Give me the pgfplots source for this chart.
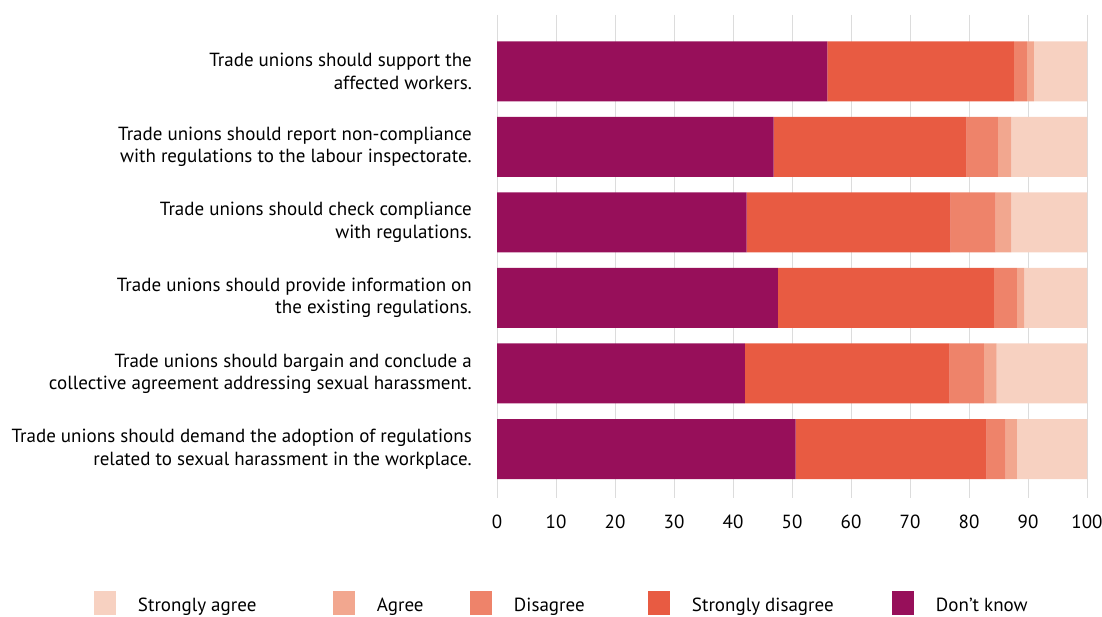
\documentclass[border=0pt]{standalone}
\usepackage{fontspec}
\setmainfont{PT Sans}
\usepackage{pgfplots}
\pgfplotsset{compat=1.18}
\definecolor{cDK}{RGB}{151,15,90}
\definecolor{cSD}{RGB}{232,91,66}
\definecolor{cD}{RGB}{238,131,106}
\definecolor{cA}{RGB}{242,167,143}
\definecolor{cSA}{RGB}{247,209,193}
\definecolor{gridc}{RGB}{220,220,220}
\newcommand{\lfont}{\fontsize{19bp}{22.4bp}\selectfont}
\begin{document}
\begin{tikzpicture}
\useasboundingbox (0,0) rectangle (1102bp,617bp);
\begin{axis}[
  at={(497bp,119bp)}, anchor=south west,
  scale only axis, width=590bp, height=483bp,
  xbar stacked, bar width=60bp, bar shift=0pt,
  xmin=0, xmax=100, ymin=-0.748, ymax=5.649, y dir=reverse,
  xtick={0,10,...,100}, ytick={0,1,2,3,4,5},
  yticklabels={
    {Trade unions should support the\\affected workers.},
    {Trade unions should report non-compliance\\with regulations to the labour inspectorate.},
    {Trade unions should check compliance\\with regulations.},
    {Trade unions should provide information on\\the existing regulations.},
    {Trade unions should bargain and conclude a\\collective agreement addressing sexual harassment.},
    {Trade unions should demand the adoption of regulations\\related to sexual harassment in the workplace.}},
  yticklabel style={align=right, font=\lfont, inner sep=0pt, xshift=-25bp},
  xticklabel style={font=\lfont, inner sep=0pt, yshift=-17bp},
  /pgf/number format/assume math mode=true,
  xmajorgrids, grid style={draw=gridc, line width=1bp},
  axis line style={draw=none}, major tick style={draw=none},
  every axis plot/.append style={draw=none, legend image code/.code={\fill[##1] (0bp,-10bp) rectangle (22bp,14bp);}},
  reverse legend,
  legend columns=5,
  legend style={at={(-0.68305,-0.2423)}, anchor=south west, draw=none, fill=none,
    inner sep=0pt, outer sep=0pt, font=\lfont,
    nodes={inner sep=0pt},
    /tikz/every odd column/.append style={column sep=22bp}},
]
\addplot[fill=cDK] coordinates {(56.0,0) (46.9,1) (42.3,2) (47.6,3) (42.0,4) (50.6,5)};
\addplot[fill=cSD] coordinates {(31.6,0) (32.7,1) (34.6,2) (36.6,3) (34.7,4) (32.4,5)};
\addplot[fill=cD] coordinates {(2.2,0) (5.3,1) (7.6,2) (3.9,3) (5.8,4) (3.2,5)};
\addplot[fill=cA] coordinates {(1.2,0) (2.3,1) (2.7,2) (1.3,3) (2.2,4) (1.9,5)};
\addplot[fill=cSA] coordinates {(9.0,0) (12.8,1) (12.8,2) (10.6,3) (15.3,4) (11.9,5)};
\legend{\makebox[195bp][l]{Don't know},\makebox[200bp][l]{Strongly disagree},\makebox[134bp][l]{Disagree},\makebox[93bp][l]{Agree},\makebox[195bp][l]{Strongly agree}}
\end{axis}
\end{tikzpicture}
\end{document}
